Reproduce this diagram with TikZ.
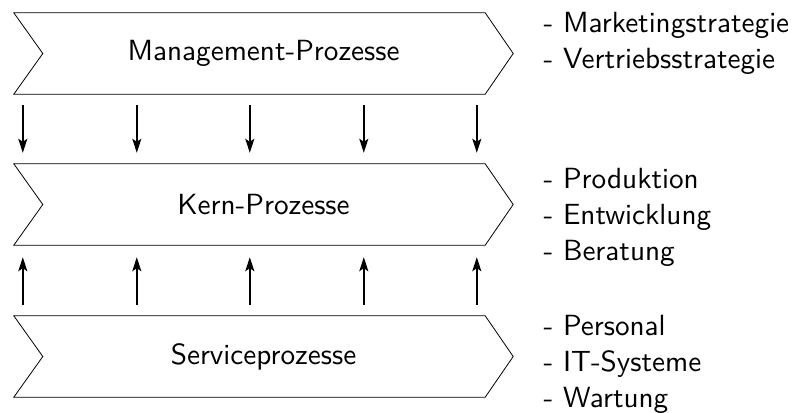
\documentclass[tikz,border=0pt]{standalone}
\usetikzlibrary{arrows.meta}
\begin{document}
\begin{tikzpicture}[x=1bp,y=-1bp,
  font=\sffamily\fontsize{10}{12}\selectfont,
  txt/.style={scale=2.93,inner sep=0pt},
  body/.style={minimum width=471bp,minimum height=81bp,inner sep=0pt},
  chevron/.style={draw,line width=0.8bp,line join=miter},
  flow/.style={line width=1.8bp,-{Stealth[length=14bp,width=9bp,inset=3bp]}},
  item/.style={txt,anchor=base west}]
\useasboundingbox (0,0) rectangle (792,412);

% process bodies (the rectangle between notch and tip)
\node[body] (m) at (249.5,53.5)  {};
\node[body] (k) at (249.5,204.5) {};
\node[body] (s) at (249.5,356.5) {};

% chevron outlines
\foreach \n in {m,k,s}{
  \draw[chevron] (\n.north west) -- (\n.north east) -- ([xshift=28bp]\n.east)
    -- (\n.south east) -- (\n.south west) -- ([xshift=29bp]\n.west) -- cycle;
}

% titles
\node[txt] (mt) at (263.5,53.5)  {Management-Prozesse};
\node[txt] (kt) at (263.5,204.5) {Kern-Prozesse};
\node[txt] (st) at (263.5,356.5) {Serviceprozesse};

% management steers the core processes, services support them
\foreach \dx in {9,123,236,350,463}{
  \draw[flow] ([xshift=\dx bp,yshift=-11bp]m.south west)
           -- ([xshift=\dx bp,yshift=11bp]k.north west);
  \draw[flow] ([xshift=\dx bp,yshift=11bp]s.north west)
           -- ([xshift=\dx bp,yshift=-12bp]k.south west);
}

% examples for each process group
\node[item] (m1) at (543,32)  {- Marketingstrategie};
\node[item] (m2) at (543,68)  {- Vertriebsstrategie};
\node[item] (k1) at (543,188) {- Produktion};
\node[item] (k2) at (543,224) {- Entwicklung};
\node[item] (k3) at (543,260) {- Beratung};
\node[item] (s1) at (543,335) {- Personal};
\node[item] (s2) at (543,371) {- IT-Systeme};
\node[item] (s3) at (543,407) {- Wartung};
\end{tikzpicture}
\end{document}
